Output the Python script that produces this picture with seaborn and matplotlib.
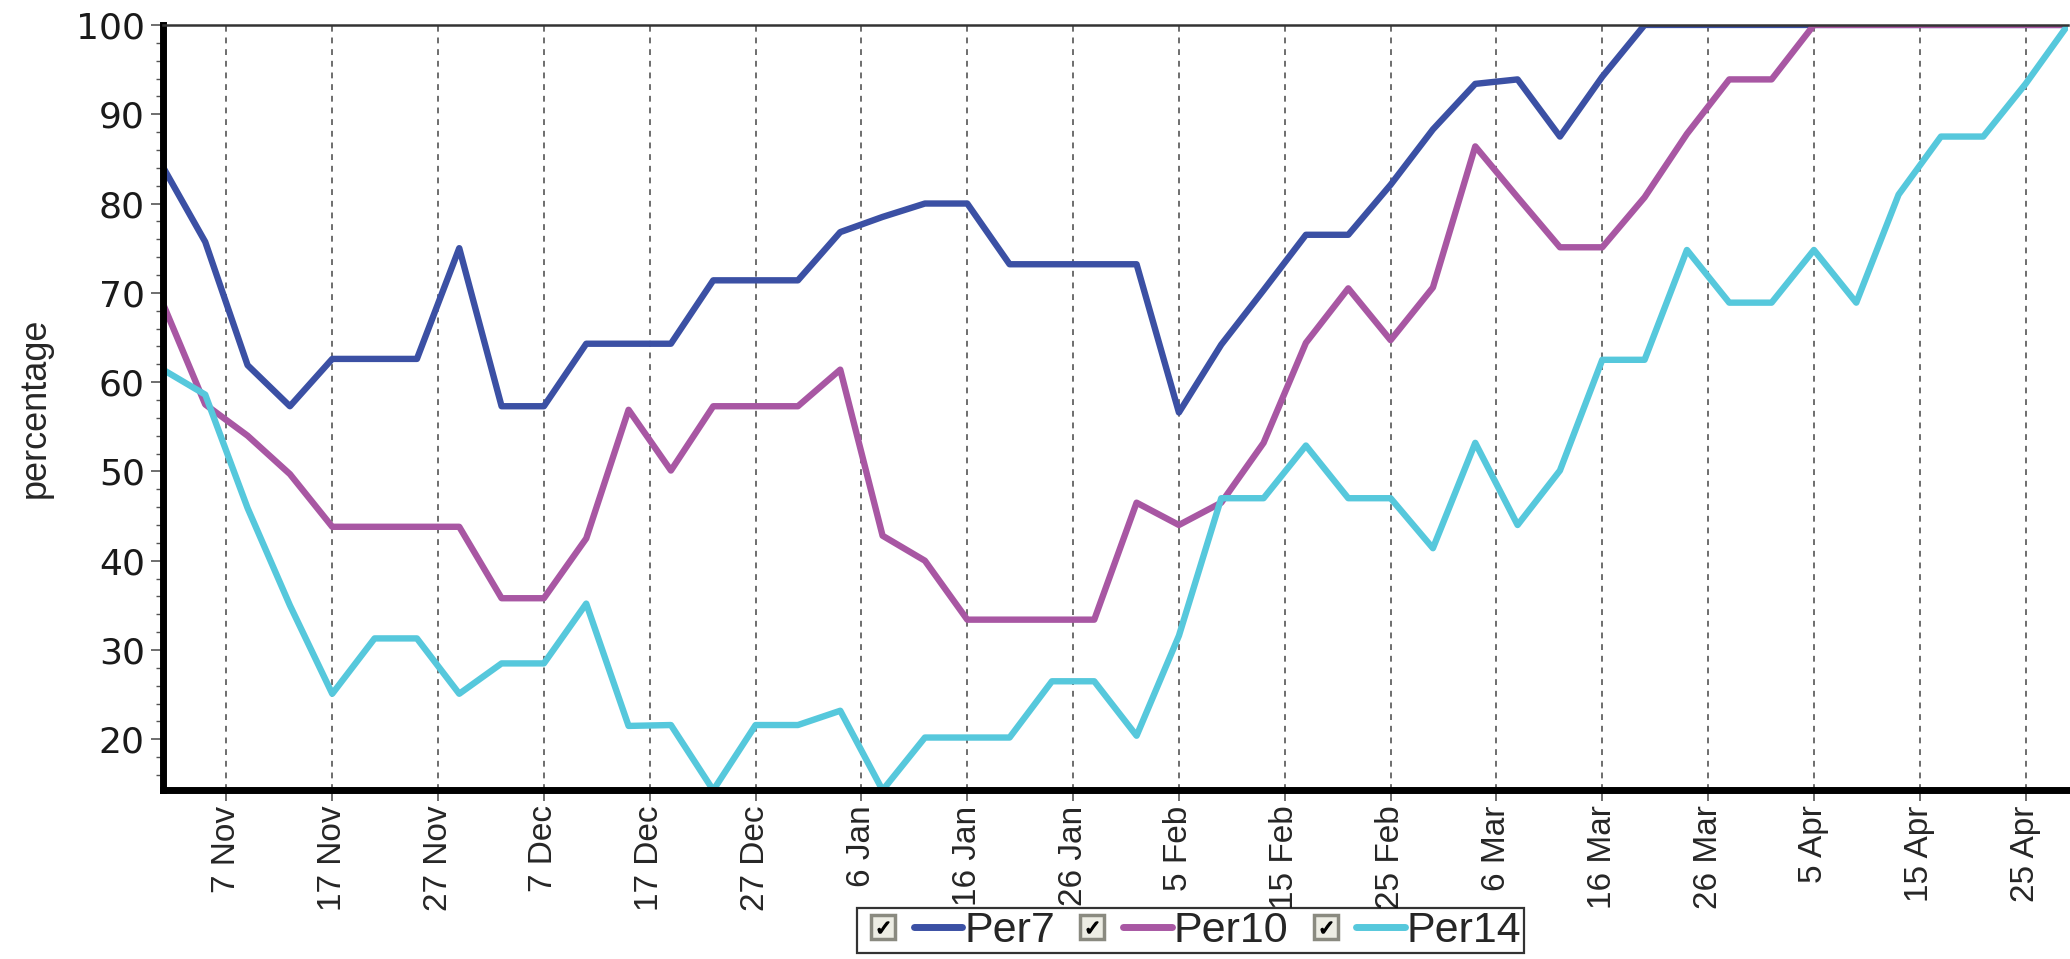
import numpy as np
import pandas as pd
import seaborn as sns
import matplotlib.pyplot as plt
from matplotlib.lines import Line2D
from matplotlib.ticker import MultipleLocator
from matplotlib.legend_handler import HandlerTuple

sns.set_theme(style="white", context="paper")
plt.rcParams['font.family'] = ['Liberation Sans', 'DejaVu Sans']

# data: one point every 4 days, 1 Nov 2019 -> 29 Apr 2020
start_date = "2019-11-01"
n_points = 46

per7 = [84.1, 75.7, 61.9, 57.3, 62.6, 62.6, 62.6, 75.0, 57.3, 57.3,
        64.3, 64.3, 64.3, 71.4, 71.4, 71.4, 76.8, 78.5, 80.0, 80.0,
        73.2, 73.2, 73.2, 73.2, 56.6, 64.2, 70.3, 76.5, 76.5, 82.1,
        88.3, 93.4, 93.9, 87.5, 94.2, 100, 100, 100, 100, 100,
        100, 100, 100, 100, 100, 100]
per10 = [68.8, 57.5, 54.0, 49.7, 43.8, 43.8, 43.8, 43.8, 35.8, 35.8,
         42.5, 56.9, 50.1, 57.3, 57.3, 57.3, 61.4, 42.8, 40.0, 33.4,
         33.4, 33.4, 33.4, 46.5, 44.0, 46.5, 53.2, 64.4, 70.5, 64.7,
         70.6, 86.4, 80.7, 75.1, 75.1, 80.7, 87.8, 93.9, 93.9, 100,
         100, 100, 100, 100, 100, 100]
per14 = [61.4, 58.6, 45.9, 35.0, 25.1, 31.3, 31.3, 25.1, 28.5, 28.5,
         35.2, 21.5, 21.6, 14.3, 21.6, 21.6, 23.2, 14.3, 20.2, 20.2,
         20.2, 26.5, 26.5, 20.4, 31.6, 47.0, 47.0, 52.9, 47.0, 47.0,
         41.4, 53.2, 44.0, 50.1, 62.5, 62.5, 74.8, 68.9, 68.9, 74.8,
         68.9, 81.0, 87.5, 87.5, 93.4, 100]

series_names = ["Per7", "Per10", "Per14"]
series_colors = ["#3b50a4", "#a857a3", "#56c8dc"]

dates = pd.date_range(start_date, periods=n_points, freq="4D")
df = pd.DataFrame({
    "date": np.tile(dates, 3),
    "value": per7 + per10 + per14,
    "series": np.repeat(series_names, n_points),
})

fig = plt.figure(figsize=(20.7, 9.59), dpi=100)
ax = fig.add_axes([0.0787, 0.176, 0.9203, 0.798])

sns.lineplot(data=df, x="date", y="value", hue="series",
             palette=dict(zip(series_names, series_colors)),
             linewidth=4.6, legend=False, ax=ax)

# axes limits / ticks
tick_dates = pd.date_range("2019-11-07", "2020-04-25", freq="10D")
ax.set_xlim(dates[0], dates[-1])
ax.set_ylim(14.3, 100)
ax.set_xticks(tick_dates)
ax.set_xticklabels([f"{d.day} {d.strftime('%b')}" for d in tick_dates],
                   rotation=90, fontsize=24)
ax.set_yticks(range(20, 101, 10))
ax.yaxis.set_minor_locator(MultipleLocator(2))
for lab in ax.get_yticklabels():
    lab.set_fontfamily('DejaVu Sans')
    lab.set_fontsize(26)
    lab.set_color('#1a1a1a')

ax.tick_params(axis='x', which='major', bottom=True, length=8, width=1.2,
               color='#555555', pad=3)
ax.tick_params(axis='y', which='major', left=True, length=9, width=1.2,
               color='#555555', pad=4)
ax.tick_params(axis='y', which='minor', left=True, length=5, width=1.0,
               color='#555555')

ax.grid(axis='x', color='#6e6e6e', linestyle=(0, (3, 3)), linewidth=1.4)
ax.set_axisbelow(True)

ax.spines['left'].set_linewidth(5)
ax.spines['left'].set_color('black')
ax.spines['bottom'].set_linewidth(5)
ax.spines['bottom'].set_color('black')
ax.spines['top'].set_linewidth(1.8)
ax.spines['top'].set_color('#333333')
ax.spines['right'].set_visible(False)

ax.set_xlabel('')
ax.set_ylabel('percentage', fontsize=26)
ax.yaxis.set_label_coords(-0.058, 0.5)

# legend with little checkboxes
handles = []
for name, color in zip(series_names, series_colors):
    box = Line2D([], [], marker='s', markersize=17, markerfacecolor='#ededE4',
                 markeredgecolor='#8a8a80', markeredgewidth=2.5, linestyle='none')
    line = Line2D([], [], color=color, linewidth=5, solid_capstyle='round')
    check = Line2D([], [], marker=r'$\checkmark$', markersize=8, color='black',
                   linestyle='none')
    handles.append((box, line, check))

leg = fig.legend(handles, series_names,
                 handler_map={tuple: HandlerTuple(ndivide=2, pad=0.15)},
                 loc='lower center', bbox_to_anchor=(0.575, 0.002), ncol=3,
                 fontsize=31, frameon=True, fancybox=False, edgecolor='black',
                 handlelength=2.4, handletextpad=0.05, columnspacing=0.3,
                 borderpad=0.05, borderaxespad=0.1)
leg.get_frame().set_linewidth(1.6)

plt.savefig("out.png", dpi=100)
